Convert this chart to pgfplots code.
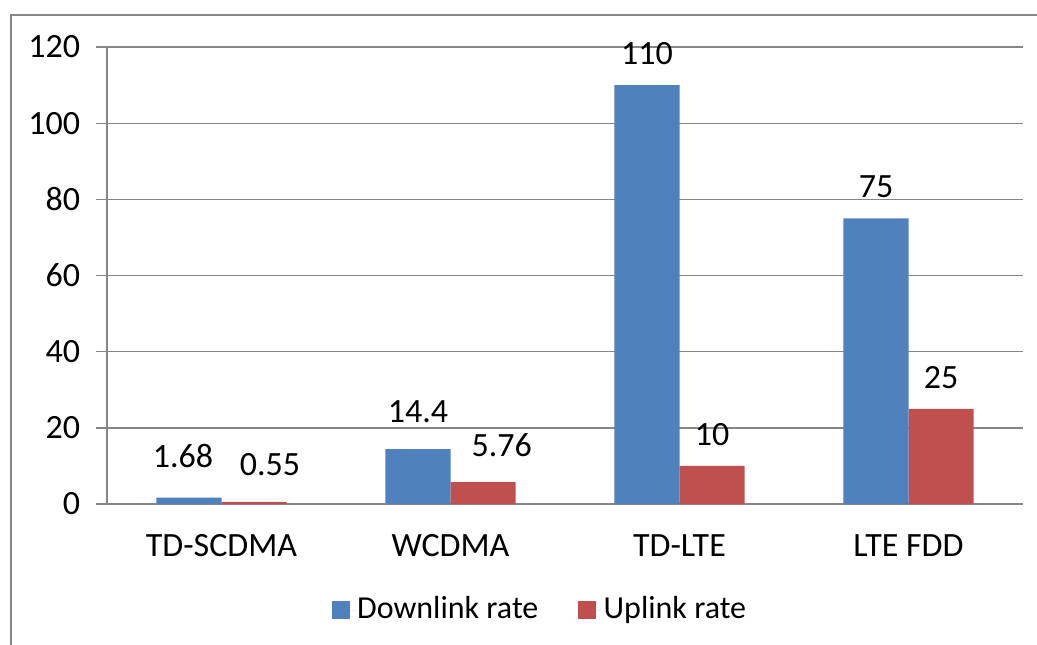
\documentclass[border=0pt]{standalone}
\usepackage{fontspec}
\setmainfont{Carlito}
\usepackage{pgfplots}
\usepackage{pgfplotstable}
\pgfplotsset{compat=1.18}
\definecolor{xblue}{RGB}{79,129,189}
\definecolor{xred}{RGB}{192,80,77}
\definecolor{xgray}{RGB}{134,134,134}
\pgfplotstableread{
x y dx dy
0 1.68 -4.5 22.5
1 14.4 0 19.5
2 110 0 15
3 75 0 15
}\down
\pgfplotstableread{
x y dx dy
0 0.55 12 19.5
1 5.76 14 19
2 10 0 15
3 25 0 15
}\up
\begin{document}
\fontsize{23}{28}\selectfont
\begin{tikzpicture}
\useasboundingbox (0pt,0pt) rectangle (777.75pt,483pt);
\draw[xgray, line width=1.5pt] (8.25pt,-20pt) -- (8.25pt,471.75pt) -- (800pt,471.75pt);
\begin{axis}[
  at={(80.25pt,105pt)}, anchor=south west,
  scale only axis, width=687pt, height=342.75pt,
  xmin=-0.5, xmax=3.5, ymin=0, ymax=120,
  ytick={0,20,...,120},
  ymajorgrids, grid style={xgray, line width=1pt},
  axis lines*=left,
  axis line style={xgray, line width=1pt},
  tick style={xgray, line width=1pt},
  tick align=outside,
  major tick length=8.25pt,
  xtick={0,1,2,3},
  xticklabels={TD-SCDMA,WCDMA,TD-LTE,LTE FDD},
  x tick style={draw=none},
  extra x ticks={-0.5,0.5,1.5,2.5,3.5},
  extra x tick labels={},
  extra x tick style={x tick style={xgray, line width=1pt}, major tick length=8.25pt, tick align=outside},
  /pgf/number format/assume math mode=true,
  tick label style={font=\fontsize{25.5}{30}\selectfont},
  yticklabel style={xshift=-4pt},
  xticklabel style={yshift=-7pt},
  ybar=0pt, bar width=0.284,
  visualization depends on={\thisrow{dx} \as \dx},
  visualization depends on={\thisrow{dy} \as \dy},
  nodes near coords,
  nodes near coords style={font=\fontsize{25.5}{30}\selectfont, text=black, anchor=south, inner sep=0pt, xshift=\dx pt, yshift=\dy pt},
  legend columns=2,
  legend style={at={(0.473,-0.232)}, anchor=center, draw=none, fill=none,
    font=\fontsize{24}{28}\selectfont,
    /tikz/every even column/.append style={column sep=28pt}},
  legend image code/.code={\fill[#1] (0pt,-6.75pt) rectangle (13.5pt,6.75pt); \path (0pt,0pt) -- (17pt,0pt);},
]
\addplot[fill=xblue, draw=none] table[x=x, y=y] {\down};
\addplot[fill=xred, draw=none] table[x=x, y=y] {\up};
\legend{Downlink rate, Uplink rate}
\end{axis}
\end{tikzpicture}
\end{document}
